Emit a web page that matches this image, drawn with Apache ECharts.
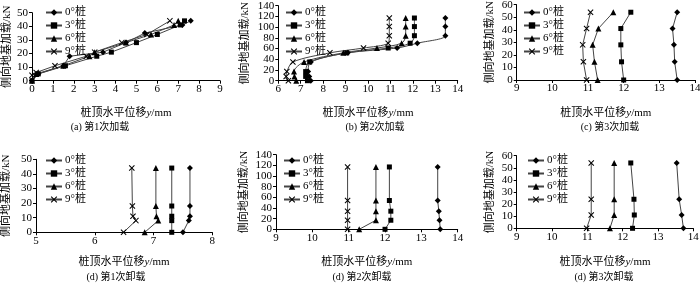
<!DOCTYPE html>
<html>
<head>
<meta charset="utf-8">
<script src="https://cdn.jsdelivr.net/npm/echarts@6/dist/echarts.min.js"></script>
<style>
  html, body { margin: 0; padding: 0; background: #fff; }
  #chart { width: 700px; height: 285px; }
</style>
</head>
<body>
<div id="chart"></div>
<script>
/* global echarts */
const pileNames = ['0°桩', '3°桩', '6°桩', '9°桩'];
const captions = ['(a) 第1次加载', '(b) 第2次加载', '(c) 第3次加载', '(d) 第1次卸载', '(d) 第2次卸载', '(d) 第3次卸载'];

// axis ranges per panel: [min, max, step]
const xRanges = [[0, 9, 1], [6, 14, 1], [9, 14, 1], [5, 8, 1], [9, 14, 1], [9, 14, 1]];
const yRanges = [[0, 50, 10], [0, 140, 20], [0, 60, 10], [0, 50, 10], [0, 140, 20], [0, 60, 10]];

// (a) 1st loading: [displacement mm, load kN]
const load1_p0 = [[0, 0], [0.3, 5], [1.5, 11], [1.8, 18], [3.4, 21], [4.5, 28], [5.4, 35], [7.2, 41], [7.6, 44]];
const load1_p3 = [[0, 0], [0.3, 5], [1.6, 11], [3.1, 18], [3.8, 21], [5.0, 28], [6.0, 34], [7.1, 41], [7.3, 44]];
const load1_p6 = [[0, 0], [0.2, 5], [1.5, 11], [2.75, 18], [3.0, 21], [4.5, 28], [5.7, 34], [6.8, 41], [7.0, 44]];
const load1_p9 = [[0, 4], [0.2, 6], [1.1, 11], [2.6, 18], [3.0, 21], [4.3, 28], [5.5, 34], [6.6, 44]];

// (b) 2nd loading
const load2_p0 = [[7.45, 0], [7.38, 8], [7.33, 17], [7.45, 35], [9.1, 52], [11.3, 61], [12.2, 70], [13.45, 84], [13.45, 101], [13.45, 117]];
const load2_p3 = [[7.3, 0], [7.22, 8], [7.22, 17], [7.4, 35], [9.05, 52], [10.9, 61], [11.88, 70], [12.07, 84], [12.07, 101], [12.07, 117]];
const load2_p6 = [[6.8, 0], [6.72, 8], [6.7, 17], [7.15, 35], [8.9, 52], [10.4, 61], [11.5, 70], [11.68, 84], [11.68, 101], [11.68, 117]];
const load2_p9 = [[6.45, 0], [6.35, 8], [6.38, 17], [6.65, 35], [8.3, 52], [9.8, 61], [10.9, 70], [10.95, 84], [10.95, 101], [10.95, 117]];

// (c) 3rd loading
const load3_p0 = [[13.5, 0], [13.43, 14.5], [13.41, 28], [13.37, 41], [13.5, 54]];
const load3_p3 = [[12.0, 0], [11.94, 14.5], [11.92, 28], [11.92, 41], [12.2, 54]];
const load3_p6 = [[11.27, 0], [11.18, 14.5], [11.13, 28], [11.29, 41], [11.71, 54]];
const load3_p9 = [[10.96, 0], [10.87, 14.5], [10.85, 28], [10.96, 41], [11.07, 54]];

// (d) 1st unloading
const unload1_p0 = [[7.5, 0], [7.6, 8], [7.62, 11], [7.62, 18], [7.62, 44]];
const unload1_p3 = [[7.31, 0], [7.31, 8], [7.31, 11], [7.31, 18], [7.31, 44]];
const unload1_p6 = [[6.85, 0], [7.08, 8], [7.05, 11], [7.04, 18], [7.04, 44]];
const unload1_p9 = [[6.49, 0], [6.7, 8], [6.65, 11], [6.64, 18], [6.63, 44]];

// (d) 2nd unloading
const unload2_p0 = [[13.52, 0], [13.5, 17], [13.48, 34], [13.45, 54], [13.45, 117]];
const unload2_p3 = [[12.0, 0], [12.16, 17], [12.16, 34], [12.12, 54], [12.12, 117]];
const unload2_p6 = [[11.29, 0], [11.75, 17], [11.75, 34], [11.75, 54], [11.75, 117]];
const unload2_p9 = [[10.97, 0], [10.97, 17], [10.97, 34], [10.97, 54], [10.97, 117]];

// (d) 3rd unloading
const unload3_p0 = [[13.72, 0], [13.67, 11], [13.6, 24], [13.53, 54]];
const unload3_p3 = [[12.28, 0], [12.33, 11], [12.32, 24], [12.23, 54]];
const unload3_p6 = [[11.64, 0], [11.76, 11], [11.76, 24], [11.76, 54]];
const unload3_p9 = [[10.98, 0], [11.11, 11], [11.11, 24], [11.11, 54]];

const panels = [
    [load1_p0, load1_p3, load1_p6, load1_p9],
    [load2_p0, load2_p3, load2_p6, load2_p9],
    [load3_p0, load3_p3, load3_p6, load3_p9],
    [unload1_p0, unload1_p3, unload1_p6, unload1_p9],
    [unload2_p0, unload2_p3, unload2_p6, unload2_p9],
    [unload3_p0, unload3_p3, unload3_p6, unload3_p9]
];

const serif = "'Liberation Serif', 'Noto Sans CJK SC', serif";
const xMark = 'path://M0,1.2L1.2,0L5,3.8L8.8,0L10,1.2L6.2,5L10,8.8L8.8,10L5,6.2L1.2,10L0,8.8L3.8,5Z';
const symbols = ['diamond', 'rect', 'triangle', xMark];
const symbolSizes = [6, 5, 6, 6];

// plot boxes, in px
const grids = [
    { left: 32, top: 12.7, width: 188, height: 68 },
    { left: 278.3, top: 5.7, width: 179.4, height: 75 },
    { left: 516.7, top: 4.7, width: 178.3, height: 75.3 },
    { left: 36, top: 159.3, width: 176.3, height: 73 },
    { left: 276, top: 154.7, width: 181.7, height: 74.6 },
    { left: 516.7, top: 155.7, width: 176.6, height: 72.6 }
];
const xNameGaps = [27, 27, 28, 24, 27, 28];
const yNameGaps = [17, 28, 21, 24, 26, 21];
const legendPos = [[45, 7], [285, 7], [523, 7], [45, 155], [283, 155], [527, 155]];
const captionPos = [[100, 127], [375, 127], [610, 127], [116, 277], [362, 277], [604, 277]];
// panels whose tick labels are too dense for one label layer
const densePanels = [1, 4];

const axisLine = { show: true, onZero: false, lineStyle: { color: '#000', width: 1 } };
const axisTick = { show: true, inside: false, length: 3, lineStyle: { color: '#000' } };
const labelFont = { fontFamily: serif, fontSize: 11, color: '#000', showMinLabel: true, showMaxLabel: true, hideOverlap: false };

const xAxis = xRanges.map((r, i) => ({
    type: 'value', gridIndex: i, min: r[0], max: r[1], interval: r[2],
    name: '桩顶水平位移{i|y}/mm', nameLocation: 'middle', nameGap: xNameGaps[i],
    nameTextStyle: { fontFamily: serif, fontSize: 11, color: '#000',
        rich: { i: { fontFamily: serif, fontSize: 11, fontStyle: 'italic', color: '#000' } } },
    axisLine: axisLine, axisTick: axisTick,
    axisLabel: Object.assign({ margin: 3 }, labelFont),
    splitLine: { show: false }
}));

const yAxis = yRanges.map((r, i) => {
    const dense = densePanels.includes(i);
    return {
        type: 'value', gridIndex: i, min: r[0], max: r[1], interval: r[2],
        name: '侧向地基加载/kN', nameLocation: 'middle', nameGap: yNameGaps[i],
        nameTextStyle: { fontFamily: serif, fontSize: 11, color: '#000' },
        axisLine: axisLine, axisTick: axisTick,
        axisLabel: Object.assign({
            margin: 4,
            formatter: v => (!dense || Math.round(v / r[2]) % 2 === 0 ? String(v) : '')
        }, labelFont),
        splitLine: { show: false }
    };
});
// second label layer (odd ticks) on the dense axes
densePanels.forEach(i => {
    const r = yRanges[i];
    yAxis.push({
        type: 'value', gridIndex: i, min: r[0], max: r[1], interval: r[2], position: 'left',
        axisLine: { show: false }, axisTick: { show: false }, splitLine: { show: false },
        axisLabel: Object.assign({
            margin: 4,
            formatter: v => (Math.round(v / r[2]) % 2 === 1 ? String(v) : '')
        }, labelFont)
    });
});

const series = [];
panels.forEach((group, p) => {
    group.forEach((pts, k) => {
        series.push({
            name: pileNames[k],
            type: 'line',
            xAxisIndex: p,
            yAxisIndex: p,
            data: pts,
            smooth: p === 1 ? 0.3 : false,
            symbol: symbols[k],
            symbolSize: symbolSizes[k],
            showAllSymbol: true,
            lineStyle: { color: '#444', width: 1 },
            itemStyle: { color: '#000' },
            animation: false
        });
    });
});

const legend = legendPos.map(pos => ({
    orient: 'vertical',
    left: pos[0],
    top: pos[1],
    padding: 0,
    itemWidth: 16,
    itemHeight: 8,
    itemGap: 2,
    selectedMode: false,
    data: pileNames,
    textStyle: { fontFamily: serif, fontSize: 11, color: '#000', lineHeight: 11, padding: [0, 0, 0, -2] }
}));

const graphic = captions.map((t, i) => ({
    type: 'text',
    x: captionPos[i][0],
    y: captionPos[i][1],
    style: { text: t, fontFamily: serif, fontSize: 10, fill: '#000', textAlign: 'center', textVerticalAlign: 'middle' }
}));

const chart = echarts.init(document.getElementById('chart'));
chart.setOption({
    animation: false,
    backgroundColor: '#fff',
    grid: grids.map(g => Object.assign({ outerBoundsMode: 'none' }, g)),
    xAxis: xAxis,
    yAxis: yAxis,
    legend: legend,
    series: series,
    graphic: graphic
});
</script>
</body>
</html>
